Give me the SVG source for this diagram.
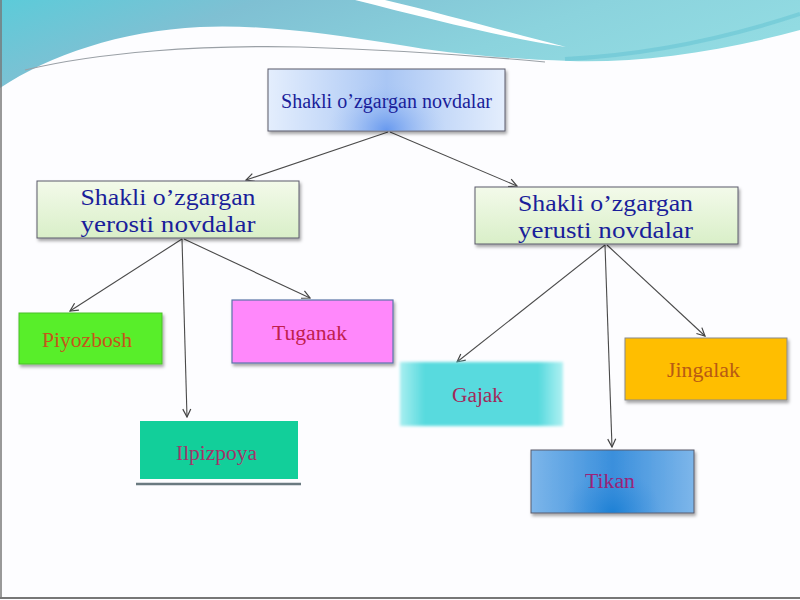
<svg xmlns="http://www.w3.org/2000/svg" width="800" height="600" viewBox="0 0 800 600">
<defs>
<linearGradient id="teal" x1="0" y1="0" x2="1" y2="0.3">
<stop offset="0" stop-color="#5ccbd9"/>
<stop offset="0.3" stop-color="#7fc0d3"/>
<stop offset="0.7" stop-color="#8bd3dd"/>
<stop offset="1" stop-color="#92dbe2"/>
</linearGradient>
<linearGradient id="rootH" x1="0" y1="0" x2="1" y2="0">
<stop offset="0" stop-color="#e4eefd"/>
<stop offset="0.5" stop-color="#a9c6f4"/>
<stop offset="1" stop-color="#e4eefd"/>
</linearGradient>
<radialGradient id="rootR" cx="0.5" cy="1" r="0.5" gradientTransform="translate(0.5 1) scale(0.5 1.6) translate(-0.5 -1)">
<stop offset="0" stop-color="#5f93ee" stop-opacity="0.9"/>
<stop offset="1" stop-color="#a9c6f4" stop-opacity="0"/>
</radialGradient>
<linearGradient id="midG" x1="0" y1="0" x2="0" y2="1">
<stop offset="0" stop-color="#f3faea"/>
<stop offset="1" stop-color="#d9efc8"/>
</linearGradient>
<linearGradient id="gajakG" x1="0" y1="0" x2="1" y2="0">
<stop offset="0" stop-color="#a8eef0"/>
<stop offset="0.15" stop-color="#58dade"/>
<stop offset="0.85" stop-color="#58dade"/>
<stop offset="1" stop-color="#b0f0f2"/>
</linearGradient>
<linearGradient id="tikanH" x1="0" y1="0" x2="1" y2="0">
<stop offset="0" stop-color="#7db6ea"/>
<stop offset="0.5" stop-color="#3a8fdc"/>
<stop offset="1" stop-color="#7db6ea"/>
</linearGradient>
<radialGradient id="tikanR" cx="0.5" cy="1" r="0.5" gradientTransform="translate(0.5 1) scale(0.6 1.4) translate(-0.5 -1)">
<stop offset="0" stop-color="#1a7fd4" stop-opacity="0.9"/>
<stop offset="1" stop-color="#3a8fdc" stop-opacity="0"/>
</radialGradient>
<filter id="sh" x="-10%" y="-10%" width="125%" height="140%">
<feDropShadow dx="1.5" dy="2.5" stdDeviation="1.5" flood-color="#000" flood-opacity="0.35"/>
</filter>
<filter id="soft" x="-10%" y="-10%" width="120%" height="130%">
<feGaussianBlur stdDeviation="1.5"/>
</filter>
<marker id="arr" viewBox="0 0 10 10" refX="9" refY="5" markerWidth="10" markerHeight="10" markerUnits="userSpaceOnUse" orient="auto">
<path d="M1,1 L9,5 L1,9" fill="none" stroke="#444" stroke-width="1.2"/>
</marker>
</defs>
<style>
.lbl{font-family:"Liberation Serif","DejaVu Serif",serif;text-anchor:middle}
.conn line{stroke:#4a4a4a;stroke-width:1.1;marker-end:url(#arr)}
.box{stroke:#5a5a6a;stroke-width:1}
</style>
<rect x="0" y="0" width="800" height="600" fill="#fdfdff"/>
<g id="background">
<path d="M0,0 H800 V30 C720,52 640,63 570,61 C500,59 440,52 400,45 C330,34 260,24 200,27 C120,31 50,55 0,88 Z" fill="url(#teal)"/>
<path d="M565,59 C650,55 730,37 800,14" fill="none" stroke="#4cb8cc" stroke-width="4" opacity="0.35"/>
<path d="M355,0 L385,0 C445,14 510,33 566,47 C500,37 430,19 355,0 Z" fill="#ffffff"/>
<path d="M25,70 C100,52 200,45 300,47 C400,50 480,56 545,62" fill="none" stroke="#9aa0a6" stroke-width="1.2"/>
<line x1="1" y1="0" x2="1" y2="598" stroke="#777" stroke-width="1.5"/>
<line x1="0" y1="598" x2="800" y2="598" stroke="#777" stroke-width="2"/>
</g>
<g class="conn" id="connectors">
<line x1="388" y1="132" x2="246" y2="180"/>
<line x1="390" y1="132" x2="517" y2="186"/>
<line x1="182" y1="239" x2="70" y2="311"/>
<line x1="182" y1="239" x2="187" y2="417"/>
<line x1="184" y1="239" x2="310" y2="298"/>
<line x1="605" y1="245" x2="457" y2="362"/>
<line x1="605" y1="245" x2="612" y2="447"/>
<line x1="607" y1="245" x2="705" y2="336"/>
</g>
<g id="root">
<rect class="box" x="268" y="69" width="237" height="62" fill="url(#rootH)" filter="url(#sh)"/>
<rect x="268.5" y="69.5" width="236" height="61" fill="url(#rootR)"/>
<text class="lbl" x="386.5" y="108" font-size="20" fill="#1a1e9a" textLength="211" lengthAdjust="spacingAndGlyphs">Shakli o’zgargan novdalar</text>
</g>
<g id="yerosti">
<rect class="box" x="37" y="181" width="262" height="57" fill="url(#midG)" filter="url(#sh)"/>
<text class="lbl" x="168" y="205" font-size="24" fill="#1a1e9a" textLength="175" lengthAdjust="spacingAndGlyphs">Shakli o’zgargan</text>
<text class="lbl" x="168" y="232" font-size="24" fill="#1a1e9a" textLength="175" lengthAdjust="spacingAndGlyphs">yerosti novdalar</text>
</g>
<g id="yerusti">
<rect class="box" x="475" y="187" width="263" height="57" fill="url(#midG)" filter="url(#sh)"/>
<text class="lbl" x="605.5" y="211" font-size="24" fill="#1a1e9a" textLength="175" lengthAdjust="spacingAndGlyphs">Shakli o’zgargan</text>
<text class="lbl" x="605.5" y="238" font-size="24" fill="#1a1e9a" textLength="175" lengthAdjust="spacingAndGlyphs">yerusti novdalar</text>
</g>
<g id="piyozbosh">
<rect x="19" y="313" width="143" height="51" fill="#58ee2a" stroke="#4bbf2a" stroke-width="1" filter="url(#sh)"/>
<text class="lbl" x="87" y="347" font-size="20" fill="#c4561a" textLength="90" lengthAdjust="spacingAndGlyphs">Piyozbosh</text>
</g>
<g id="tuganak">
<rect x="232" y="300" width="161" height="63" fill="#ff88fb" stroke="#5b74a8" stroke-width="1.2" filter="url(#sh)"/>
<text class="lbl" x="309.5" y="340" font-size="20" fill="#c0204e" textLength="75" lengthAdjust="spacingAndGlyphs">Tuganak</text>
</g>
<g id="ilpizpoya">
<rect x="140" y="421" width="158" height="58" fill="#12cf9a"/>
<line x1="136" y1="484" x2="301" y2="484" stroke="#6a7a80" stroke-width="2.5"/>
<text class="lbl" x="216.5" y="460" font-size="20" fill="#a3346a" textLength="81" lengthAdjust="spacingAndGlyphs">Ilpizpoya</text>
</g>
<g id="gajak">
<rect x="400" y="362" width="163" height="64" fill="url(#gajakG)" filter="url(#soft)"/>
<text class="lbl" x="477.5" y="402" font-size="20" fill="#a3285a" textLength="51" lengthAdjust="spacingAndGlyphs">Gajak</text>
</g>
<g id="jingalak">
<rect x="625" y="338" width="162" height="62" fill="#ffbe00" stroke="#8a8a8a" stroke-width="1" filter="url(#sh)"/>
<text class="lbl" x="703.5" y="377" font-size="20" fill="#b85a14" textLength="73" lengthAdjust="spacingAndGlyphs">Jingalak</text>
</g>
<g id="tikan">
<rect class="box" x="531" y="450" width="163" height="63" fill="url(#tikanH)" filter="url(#sh)"/>
<rect x="531.5" y="450.5" width="162" height="62" fill="url(#tikanR)"/>
<text class="lbl" x="610" y="488" font-size="20" fill="#9a2278" textLength="50" lengthAdjust="spacingAndGlyphs">Tikan</text>
</g>
</svg>
